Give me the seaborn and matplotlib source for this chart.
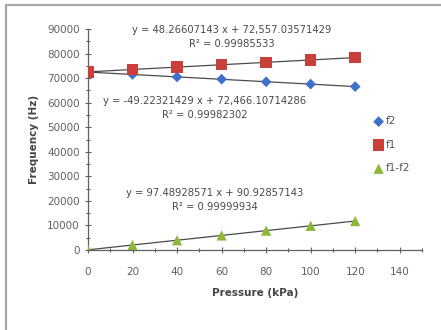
import matplotlib
matplotlib.use("Agg")
import matplotlib.pyplot as plt
import seaborn as sns
import pandas as pd
from matplotlib.patches import Rectangle

pressure = [0, 20, 40, 60, 80, 100, 120]
f2 = [72450, 71500, 70480, 69560, 68500, 67550, 66560]
f1 = [72550, 73500, 74450, 75500, 76400, 77400, 78350]
f1_f2 = [100, 2000, 3970, 5940, 7900, 9850, 11790]

eq_f1 = "y = 48.26607143 x + 72,557.03571429\nR² = 0.99985533"
eq_f2 = "y = -49.22321429 x + 72,466.10714286\nR² = 0.99982302"
eq_d = "y = 97.48928571 x + 90.92857143\nR² = 0.99999934"

series_names = ["f2", "f1", "f1-f2"]
colors = {"f2": "#3F72C6", "f1": "#C9403B", "f1-f2": "#8DB83C"}
markers = {"f2": "D", "f1": "s", "f1-f2": "^"}
sizes = {"f2": 30, "f1": 70, "f1-f2": 55}

rows = []
for name, vals in zip(series_names, [f2, f1, f1_f2]):
    for p, v in zip(pressure, vals):
        rows.append({"Pressure": p, "Frequency": v, "Series": name})
df = pd.DataFrame(rows)

sns.set_style("white")
plt.rcParams['font.family'] = ['DejaVu Sans']

fig = plt.figure(figsize=(4.41, 3.3), dpi=100)
ax = fig.add_axes([88/441, 1 - 250/330, (422-88)/441, (250-29)/330])

for name in series_names:
    sub = df[df.Series == name]
    sns.regplot(data=sub, x="Pressure", y="Frequency", scatter=False, ci=None,
                color="#4A4A4A", line_kws={"lw": 0.9}, ax=ax)
for name in series_names:
    sub = df[df.Series == name]
    sns.scatterplot(data=sub, x="Pressure", y="Frequency", marker=markers[name],
                    color=colors[name], s=sizes[name], edgecolor="none",
                    label=name, ax=ax, zorder=3)

ax.set_xlim(0, 150)
ax.set_ylim(0, 90000)
ax.set_xticks(range(0, 141, 20))
ax.set_xticks(range(0, 151, 10), minor=True)
ax.set_yticks(range(0, 90001, 10000))
ax.set_yticks(range(0, 90001, 5000), minor=True)
ax.tick_params(axis="both", which="both", direction="inout", color="#606060",
               labelcolor="#606060", labelsize=7.5, left=True, bottom=True)
ax.tick_params(which="major", length=5, width=0.8)
ax.tick_params(which="minor", length=3, width=0.8)
ax.tick_params(axis="x", pad=10)
for s in ["top", "right"]:
    ax.spines[s].set_visible(False)
for s in ["left", "bottom"]:
    ax.spines[s].set_color("#606060")
    ax.spines[s].set_linewidth(0.9)
ax.set_xlabel("Pressure (kPa)", fontsize=7.5, fontweight="bold", color="#444444", labelpad=8)
ax.set_ylabel("Frequency (Hz)", fontsize=7.5, fontweight="bold", color="#444444", labelpad=6)

txt = dict(fontsize=7.2, color="#4A4A4A", ha="center", va="center", linespacing=1.4)
fig.text(232/441, 1 - 37/330, eq_f1, **txt)
fig.text(205/441, 1 - 108/330, eq_f2, **txt)
fig.text(215/441, 1 - 200/330, eq_d, **txt)

leg = ax.legend(loc="upper left", bbox_to_anchor=(363/441, 1 - 107/330),
                bbox_transform=fig.transFigure, frameon=False, fontsize=7.5,
                labelspacing=1.3, handletextpad=0.1, handlelength=1.2)
for t in leg.get_texts():
    t.set_color("#555555")

fig.patches.append(Rectangle((6/441, -0.1), 1.2, 1 - 5/330 + 0.1, transform=fig.transFigure,
                             fill=False, edgecolor="#A8A8A8", lw=1.6))

fig.savefig("out.png", dpi=100)
